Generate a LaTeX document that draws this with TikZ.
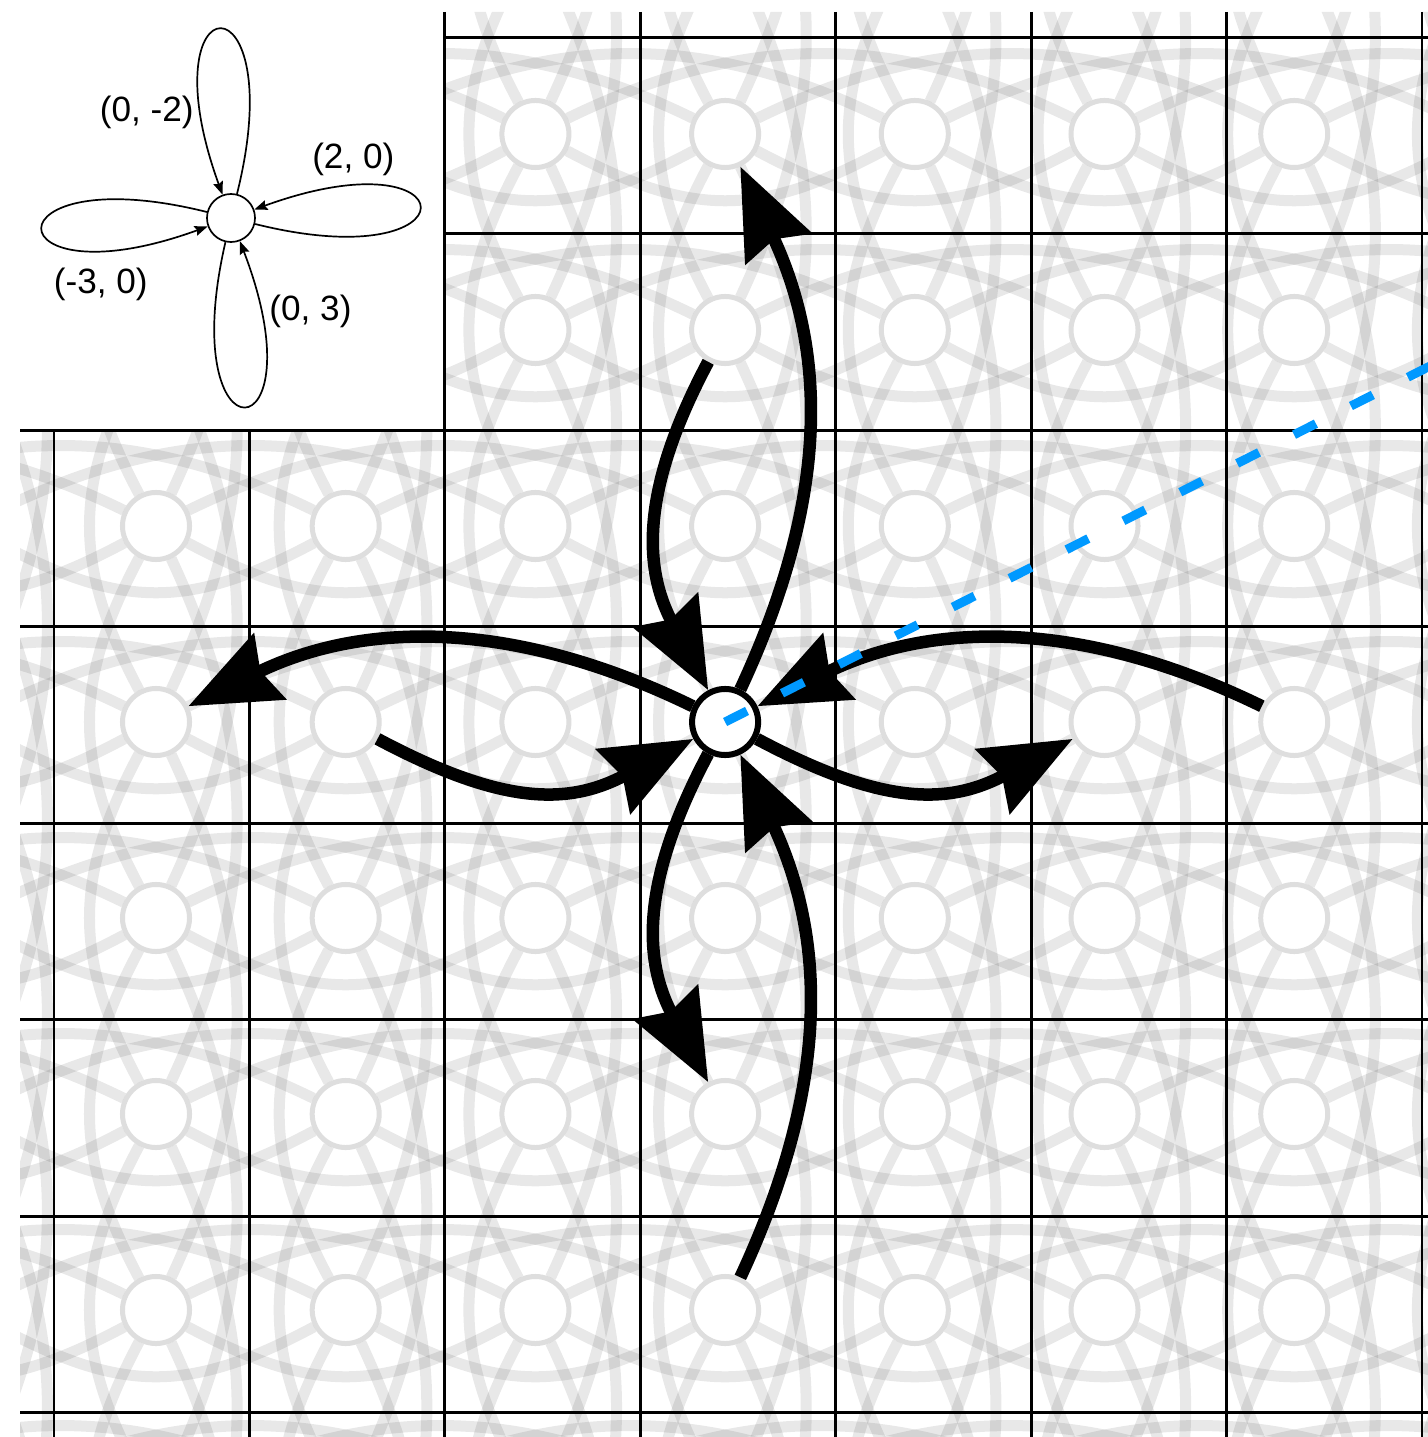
\documentclass[tikz,border=0pt]{standalone}
\usepackage{fontspec}
\setmainfont{Liberation Sans}
\usetikzlibrary{arrows.meta}
\definecolor{dashblue}{RGB}{0,153,255}
\begin{document}
\begin{tikzpicture}[x=0.01cm,y=-0.01cm,
  pnode/.style={circle, minimum size=0.67cm, inner sep=0pt, fill=white, draw=black!13, line width=0.05cm},
  faint/.style={draw=black, draw opacity=0.09, line width=0.11cm},
  tone/.style={bend right=25, looseness=1.02},
  ttwo/.style={bend right=28, looseness=1.1},
  tthree/.style={bend right=26, looseness=1},
  tfour/.style={bend right=28, looseness=1.15},
  gridline/.style={line width=0.028cm, black},
  fg/.style={line width=0.125cm, -{Stealth[length=0.9cm, width=0.72cm, inset=0.1cm]}},
  ctrnode/.style={circle, minimum size=0.66cm, inner sep=0pt, fill=white, draw=black, line width=0.06cm},
  inode/.style={circle, minimum size=0.48cm, inner sep=0pt, draw=black, line width=0.017cm},
  iloop/.style={line width=0.017cm, -{Stealth[length=0.13cm, width=0.1cm, inset=0.02cm]}, distance=2.3cm},
  lbl/.style={font=\fontsize{10}{12}\selectfont, inner sep=0pt},
  blued/.style={draw=dashblue, line width=0.09cm, dash pattern=on 0.245cm off 0.392cm}
]
\fill[white] (0,0) rectangle (1428,1437);
\useasboundingbox (0,0) rectangle (1428,1437);
% faint periodic pattern
\begin{scope}
\clip (20,430) -- (445,430) -- (445,12) -- (1428,12) -- (1428,1437) -- (20,1437) -- cycle;
\foreach \i in {0,...,13}{
  \foreach \j in {0,...,13}{
    \node[pnode] (p-\i-\j) at ({156+189.7*(\j-3)},{134+196*(\i-3)}) {};
  }
}
\foreach \i in {0,...,13}{
  \foreach \j in {0,...,13}{
    \pgfmathtruncatemacro\iu{\i-3}
    \pgfmathtruncatemacro\id{\i+2}
    \pgfmathtruncatemacro\jl{\j-3}
    \pgfmathtruncatemacro\jr{\j+2}
    \ifnum\iu>-1 \draw[faint] (p-\i-\j) to[tone] (p-\iu-\j); \fi
    \ifnum\id<14 \draw[faint] (p-\i-\j) to[ttwo] (p-\id-\j); \fi
    \ifnum\jl>-1 \draw[faint] (p-\i-\j) to[tthree] (p-\i-\jl); \fi
    \ifnum\jr<14 \draw[faint] (p-\i-\j) to[tfour] (p-\i-\jr); \fi
  }
}
\end{scope}
% grid
\foreach \k in {0,...,7}{
  \pgfmathsetmacro\gx{54+195.43*\k}
  \pgfmathsetmacro\gy{37.3+196.5*\k}
  \ifnum\k<2
    \draw[gridline] (\gx,430) -- (\gx,1437);
    \draw[gridline] (445,\gy) -- (1428,\gy);
  \else
    \draw[gridline] (\gx,12) -- (\gx,1437);
    \draw[gridline] (20,\gy) -- (1428,\gy);
  \fi
}
% inset
\node[inode] (in) at (231,218) {};
\draw[iloop] (in) to[out=76,in=110] (in);
\draw[iloop] (in) to[out=-14,in=20] (in);
\draw[iloop] (in) to[out=166,in=200] (in);
\draw[iloop] (in) to[out=257,in=291] (in);
\node[lbl] (lup) at (146.7,112.5) {(0, -2)};
\node[lbl] (lright) at (353.3,159.2) {(2, 0)};
\node[lbl] (lleft) at (100.8,284.2) {(-3, 0)};
\node[lbl] (ldown) at (310.5,311.7) {(0, 3)};
% foreground
\node[ctrnode] (ctr) at (p-6-6) {};
\draw[fg] (ctr) to[tone] (p-3-6);
\draw[fg] (p-4-6) to[ttwo] (ctr);
\draw[fg] (ctr) to[tthree] (p-6-3);
\draw[fg] (p-6-4) to[tfour] (ctr);
\draw[fg] (ctr) to[tfour] (p-6-8);
\draw[fg] (p-6-9) to[tthree] (ctr);
\draw[fg] (ctr) to[ttwo] (p-8-6);
\draw[fg] (p-9-6) to[tone] (ctr);
\coordinate (bl) at (1440,361);
\draw[blued] (ctr.center) -- (bl);
\end{tikzpicture}
\end{document}
